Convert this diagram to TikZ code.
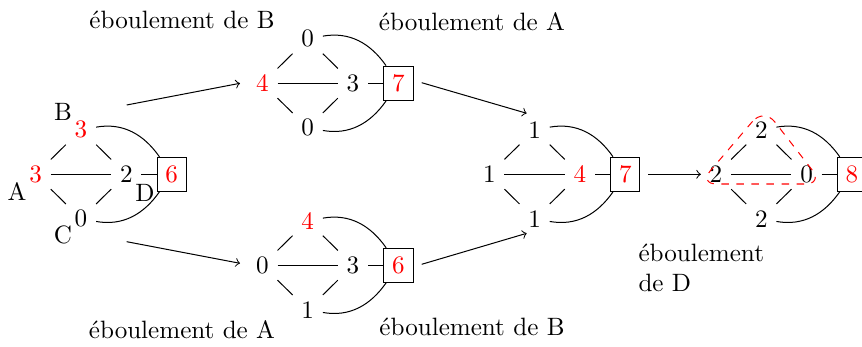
\documentclass[tikz,border=0pt]{standalone}
\usetikzlibrary{arrows}
\tikzset{
  v/.style={inner sep=3.33pt},
  sinkbox/.style={draw,inner sep=3.33pt},
  edge/.style={line width=0.4pt},
  arr/.style={->},
  caption/.style={inner sep=0pt},
}
\newcommand\spgraph[8]{%
  \node[v] (#1L) at ({#2},{#3}) {#4};
  \node[v] (#1T) at ({#2+45.3},{#3-44.5}) {#5};
  \node[v] (#1B) at ({#2+45.3},{#3+44.5}) {#6};
  \node[v] (#1R) at ({#2+90.6},{#3}) {#7};
  \node[sinkbox] (#1S) at ({#2+136},{#3}) {#8};
  \draw[edge] (#1L) -- (#1T);
  \draw[edge] (#1L) -- (#1B);
  \draw[edge] (#1L) -- (#1R);
  \draw[edge] (#1T) -- (#1R);
  \draw[edge] (#1B) -- (#1R);
  \draw[edge] (#1R) -- (#1S);
  \draw[edge] (#1T) to[out=10,in=125] (#1S);
  \draw[edge] (#1B) to[out=-10,in=-125] (#1S);
}
\begin{document}
\begin{tikzpicture}[x=0.3985pt,y=-0.3985pt]
\useasboundingbox (0,0) rectangle (862,347);
% graphs
\spgraph{a}{35.7}{174.3}{\textcolor{red}{3}}{\textcolor{red}{3}}{0}{2}{\textcolor{red}{6}}
\spgraph{b}{262.4}{83.3}{\textcolor{red}{4}}{0}{0}{3}{\textcolor{red}{7}}
\spgraph{c}{262.4}{265.3}{0}{\textcolor{red}{4}}{1}{3}{\textcolor{red}{6}}
\spgraph{d}{489.3}{174.3}{1}{1}{1}{\textcolor{red}{4}}{\textcolor{red}{7}}
\spgraph{e}{716}{174.3}{2}{2}{2}{0}{\textcolor{red}{8}}
% vertex names of the first graph
\node (nB) at (63,112) {B};
\node (nA) at (17,192) {A};
\node (nC) at (63,235) {C};
\node (nD) at (145,193) {D};
% red dashed hull
\draw[red,dashed,rounded corners=7] (764,108) -- (699,184) -- (823,184) -- cycle;
% arrows
\coordinate (p1) at (126.7,105);
\coordinate (q1) at (240,83.3);
\coordinate (p2) at (126.7,241.7);
\coordinate (q2) at (240,263.3);
\coordinate (p3) at (421.7,82.7);
\coordinate (q3) at (526.7,113.3);
\coordinate (p4) at (421.7,264.3);
\coordinate (q4) at (526.7,233.3);
\coordinate (p5) at (648.3,174.3);
\draw[arr] (p1) -- (q1);
\draw[arr] (p2) -- (q2);
\draw[arr] (p3) -- (q3);
\draw[arr] (p4) -- (q4);
\draw[arr] (p5) -- (eL);
% captions
\node[caption] (t1) at (182,20) {éboulement de B};
\node[caption] (t2) at (472,22) {éboulement de A};
\node[caption] (t3) at (182,330) {éboulement de A};
\node[caption] (t4) at (472,327) {éboulement de B};
\node[caption,align=left,anchor=west] (t5) at (638,268) {éboulement\\de D};
\end{tikzpicture}
\end{document}
